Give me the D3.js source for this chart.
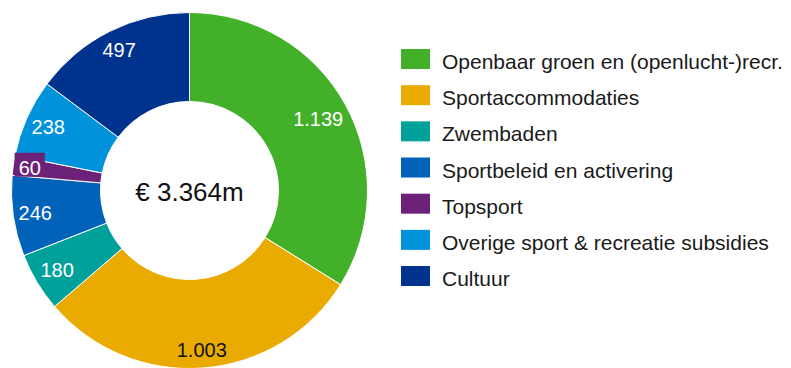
<!DOCTYPE html>
<html>
<head>
<meta charset="utf-8">
<script src="https://cdn.jsdelivr.net/npm/d3@7/dist/d3.min.js"></script>
<style>
  html, body { margin: 0; padding: 0; background: #fff; }
  svg { display: block; font-family: Arial, "Liberation Sans", Helvetica, sans-serif; }
</style>
</head>
<body>
<svg id="chart" width="791" height="368"></svg>
<script>
// Budget per category (x €1.000)
const categories = [
  "Openbaar groen en (openlucht-)recr.",
  "Sportaccommodaties",
  "Zwembaden",
  "Sportbeleid en activering",
  "Topsport",
  "Overige sport & recreatie subsidies",
  "Cultuur"
];
const values = [1139, 1003, 180, 246, 60, 238, 497];
const valueLabels = ["1.139", "1.003", "180", "246", "60", "238", "497"];
const colors = ["#43B02A", "#EAAB00", "#00A19B", "#0062B9", "#6C2279", "#0092DB", "#00338E"];
const labelColors = ["#fff", "#111", "#fff", "#fff", "#fff", "#fff", "#fff"];
const totalLabel = "€ 3.364m";

const width = 791, height = 368;
const cx = 189.5, cy = 190.5;
const outerR = 178, innerR = 89;
const labelFont = 20;

const svg = d3.select("#chart");
const g = svg.append("g").attr("transform", `translate(${cx},${cy})`);

const pie = d3.pie().sort(null).value(d => d.value).startAngle(0).endAngle(2 * Math.PI);
const arc = d3.arc().innerRadius(innerR).outerRadius(outerR);

const data = categories.map((c, i) => ({ name: c, value: values[i], label: valueLabels[i], color: colors[i], tcolor: labelColors[i] }));
const arcs = pie(data);

g.selectAll("path.slice")
  .data(arcs)
  .join("path")
  .attr("class", "slice")
  .attr("d", arc)
  .attr("fill", d => d.data.color)
  .attr("stroke", "#fff")
  .attr("stroke-width", 1);

// Value labels: pushed outward along the bisector until the text box touches the rim
const labelR = 174, boxH = 20;
const lg = g.append("g");
arcs.forEach(a => {
  const t = lg.append("text")
    .attr("font-size", labelFont)
    .attr("text-anchor", "middle")
    .attr("fill", a.data.tcolor)
    .text(a.data.label);
  const w = t.node().getComputedTextLength();
  const mid = (a.startAngle + a.endAngle) / 2;
  const sx = Math.sin(mid), sy = -Math.cos(mid);
  const b = Math.abs(sx) * w + Math.abs(sy) * boxH;
  const c = w * w / 4 + boxH * boxH / 4 - labelR * labelR;
  const dist = (-b + Math.sqrt(b * b - 4 * c)) / 2;
  const x = dist * sx, y = dist * sy;
  const base = y + 7;
  t.attr("x", x).attr("y", base);
  // narrow slices get a filled background behind their label
  const span = (a.endAngle - a.startAngle) * 180 / Math.PI;
  if (span < 10) {
    lg.insert("rect", () => t.node())
      .attr("x", x - w / 2 - 4)
      .attr("y", base - 22)
      .attr("width", w + 8)
      .attr("height", 24)
      .attr("fill", a.data.color);
  }
});

// Total in the centre
g.append("text")
  .attr("text-anchor", "middle")
  .attr("y", 10.5)
  .attr("font-size", 26)
  .attr("fill", "#111")
  .text(totalLabel);

// Legend
const legendX = 401, legendY = 49, rowH = 36.17;
const legend = svg.append("g").selectAll("g")
  .data(data)
  .join("g")
  .attr("transform", (d, i) => `translate(${legendX},${legendY + i * rowH})`);
legend.append("rect")
  .attr("width", 29)
  .attr("height", 20)
  .attr("fill", d => d.color);
legend.append("text")
  .attr("x", 41)
  .attr("y", 20)
  .attr("font-size", 21)
  .attr("fill", "#1a1a1a")
  .text(d => d.name);
</script>
</body>
</html>
